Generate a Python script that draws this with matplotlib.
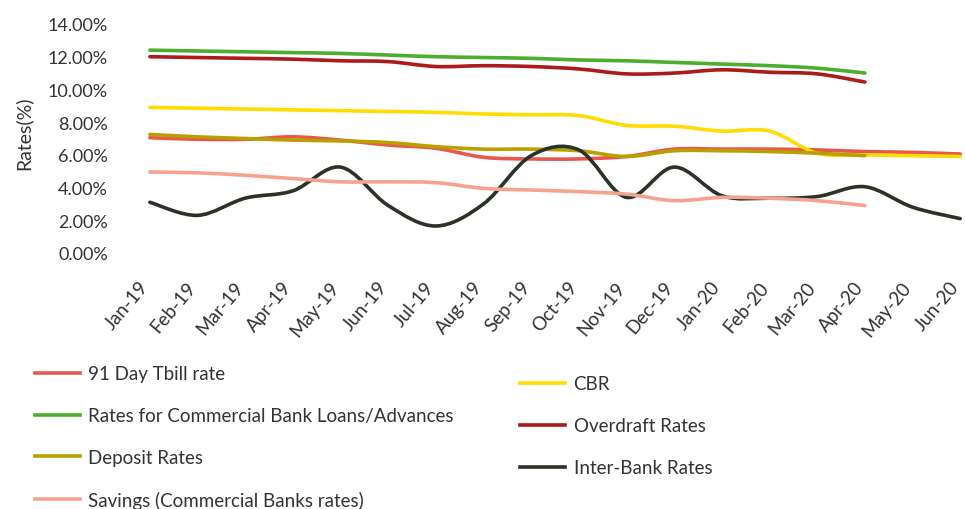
import matplotlib.pyplot as plt
import matplotlib.transforms as mtransforms
from matplotlib.path import Path
from matplotlib.patches import PathPatch
from matplotlib.lines import Line2D
from matplotlib.ticker import FuncFormatter

plt.rcParams['font.family'] = ['Lato', 'DejaVu Sans']

months = ['Jan-19', 'Feb-19', 'Mar-19', 'Apr-19', 'May-19', 'Jun-19', 'Jul-19', 'Aug-19',
          'Sep-19', 'Oct-19', 'Nov-19', 'Dec-19', 'Jan-20', 'Feb-20', 'Mar-20', 'Apr-20',
          'May-20', 'Jun-20']

# values in % (some series stop at Apr-20)
tbill = [7.05, 6.95, 6.95, 7.1, 6.9, 6.6, 6.4, 5.85, 5.75, 5.75, 5.9, 6.35, 6.35, 6.35, 6.3, 6.2, 6.15, 6.05]
cbr = [8.9, 8.85, 8.8, 8.75, 8.7, 8.65, 8.6, 8.5, 8.45, 8.4, 7.8, 7.75, 7.45, 7.45, 6.1, 6.0, 5.95, 5.9]
loans = [12.4, 12.35, 12.3, 12.25, 12.2, 12.1, 12.0, 11.95, 11.9, 11.8, 11.75, 11.65, 11.55, 11.45, 11.3, 11.0]
overdraft = [12.0, 11.95, 11.9, 11.85, 11.75, 11.7, 11.4, 11.45, 11.4, 11.25, 10.95, 11.0, 11.2, 11.05, 10.95, 10.45]
deposit = [7.25, 7.1, 7.0, 6.9, 6.85, 6.75, 6.5, 6.35, 6.35, 6.25, 5.9, 6.25, 6.25, 6.2, 6.1, 5.95]
interbank = [3.1, 2.3, 3.35, 3.8, 5.25, 2.9, 1.65, 3.0, 5.95, 6.3, 3.4, 5.25, 3.5, 3.35, 3.45, 4.05, 2.8, 2.1]
savings = [4.95, 4.9, 4.75, 4.55, 4.35, 4.35, 4.3, 3.95, 3.85, 3.75, 3.6, 3.2, 3.4, 3.35, 3.2, 2.9]

series = [
    ('91 Day Tbill rate', tbill, '#e8584c'),
    ('CBR', cbr, '#ffdd00'),
    ('Rates for Commercial Bank Loans/Advances', loans, '#4cae2c'),
    ('Overdraft Rates', overdraft, '#ad1a1a'),
    ('Deposit Rates', deposit, '#b9a000'),
    ('Inter-Bank Rates', interbank, '#2b3328'),
    ('Savings (Commercial Banks rates)', savings, '#f5a38e'),
]


def smooth_path(xs, ys):
    # Catmull-Rom through the points, drawn as cubic beziers
    verts = [(xs[0], ys[0])]
    codes = [Path.MOVETO]
    n = len(xs)
    for i in range(n - 1):
        x0, y0 = (xs[i - 1], ys[i - 1]) if i > 0 else (xs[i], ys[i])
        x3, y3 = (xs[i + 2], ys[i + 2]) if i + 2 < n else (xs[i + 1], ys[i + 1])
        c1 = (xs[i] + (xs[i + 1] - x0) / 6, ys[i] + (ys[i + 1] - y0) / 6)
        c2 = (xs[i + 1] - (x3 - xs[i]) / 6, ys[i + 1] - (y3 - ys[i]) / 6)
        verts += [c1, c2, (xs[i + 1], ys[i + 1])]
        codes += [Path.CURVE4] * 3
    return Path(verts, codes)


fig = plt.figure(figsize=(9.65, 5.10), dpi=100)
ax = fig.add_axes([0.1306, 0.502, 0.8694, 0.449])

handles = []
for name, vals, col in series:
    xs = list(range(len(vals)))
    ax.add_patch(PathPatch(smooth_path(xs, vals), fill=False, edgecolor=col, lw=2.6,
                           capstyle='round', joinstyle='round'))
    handles.append(Line2D([], [], color=col, lw=2.6, label=name))

ax.set_xlim(-0.5, 17.1)
ax.set_ylim(0, 14)
ax.set_yticks(range(0, 15, 2))
ax.yaxis.set_major_formatter(FuncFormatter(lambda v, p: '%.2f%%' % v))
ax.set_xticks(range(len(months)))
ax.set_xticklabels(months, rotation=50, ha='right', rotation_mode='anchor')
ax.tick_params(axis='y', length=0, pad=13, labelsize=13, labelcolor='#333333')
ax.tick_params(axis='x', length=0, pad=18, labelsize=13.5, labelcolor='#333333')
shift = mtransforms.ScaledTranslation(-8 / 72, 0, fig.dpi_scale_trans)
for lab in ax.get_xticklabels():
    lab.set_transform(lab.get_transform() + shift)
for s in ax.spines.values():
    s.set_visible(False)

fig.text(0.024, 1 - 133 / 510, 'Rates(%)', rotation=90, ha='center', va='center',
         fontsize=14, color='#333333')

left = [handles[0], handles[2], handles[4], handles[6]]
right = [handles[1], handles[3], handles[5]]
leg_kw = dict(loc='upper left', frameon=False, fontsize=13.5, handlelength=2.4,
              handletextpad=0.45, labelspacing=1.33, borderpad=0, borderaxespad=0,
              labelcolor='#333333')
fig.legend(handles=left, bbox_to_anchor=(0.036, 0.282), **leg_kw)
fig.legend(handles=right, bbox_to_anchor=(0.539, 0.262), **leg_kw)

fig.savefig('out.png', dpi=100)
